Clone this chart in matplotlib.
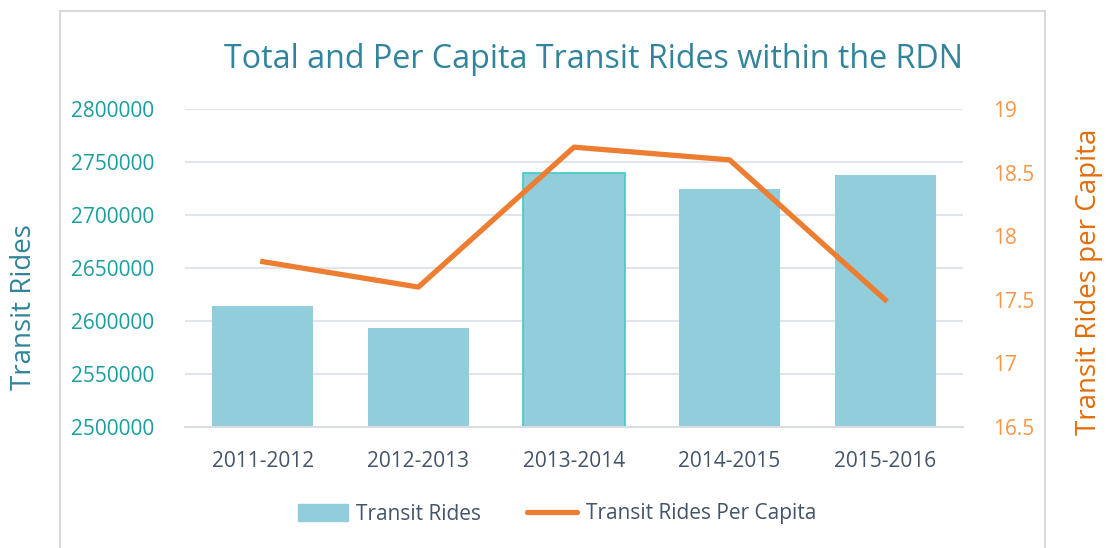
import matplotlib.pyplot as plt
from matplotlib.patches import Rectangle
from matplotlib.lines import Line2D
from matplotlib.ticker import StrMethodFormatter
import numpy as np

plt.rcParams['font.family'] = ['Open Sans', 'DejaVu Sans']

years = ['2011-2012', '2012-2013', '2013-2014', '2014-2015', '2015-2016']
rides = [2614000, 2593000, 2740000, 2725000, 2738000]
per_capita = [17.8, 17.6, 18.7, 18.6, 17.5]

bar_color = '#92CDDC'
line_color = '#ED7D31'

fig = plt.figure(figsize=(11.09, 5.48), dpi=100)
ax = fig.add_axes([185/1109, 1-427/548, 778/1109, 318/548])

x = np.arange(len(years))
bars = ax.bar(x, rides, 0.65, color=bar_color, zorder=2)
# the middle bar is drawn selected in the original
bars[2].set_edgecolor('#3CCCCC')
bars[2].set_linewidth(1.2)

ax.set_xlim(-0.5, len(years)-0.5)
ax.set_ylim(2500000, 2800000)
ax.set_yticks(np.arange(2500000, 2800001, 50000))
ax.yaxis.set_major_formatter(StrMethodFormatter('{x:.0f}'))
ax.set_xticks(x)
ax.set_xticklabels(years)
ax.grid(axis='y', color='#E1E4EA', linewidth=1.5, zorder=0)
for s in ['top', 'left', 'right']:
    ax.spines[s].set_visible(False)
ax.spines['bottom'].set_color('#D9DDE3')
ax.spines['bottom'].set_linewidth(1.5)
ax.tick_params(axis='y', length=0, pad=22, labelsize=15, labelcolor='#1A9E9E')
ax.tick_params(axis='x', length=0, pad=17, labelsize=15, labelcolor='#44546A')
ax.set_ylabel('Transit Rides', fontsize=20, color='#31849B')
ax.yaxis.set_label_coords(-0.189, 0.377)

ax2 = ax.twinx()
ax2.plot(x, per_capita, color=line_color, linewidth=3.8, zorder=3)
ax2.set_ylim(16.5, 19)
ax2.set_yticks([16.5, 17, 17.5, 18, 18.5, 19])
ax2.set_yticklabels(['16.5', '17', '17.5', '18', '18.5', '19'])
for s in ax2.spines.values():
    s.set_visible(False)
ax2.tick_params(axis='y', length=0, pad=22, labelsize=15, labelcolor='#F79646')
ax2.set_ylabel('Transit Rides per Capita', fontsize=20, color='#E36C09')
ax2.yaxis.set_label_coords(1.144, 0.456)

fig.text(593/1109, 1-60/548, 'Total and Per Capita Transit Rides within the RDN',
         fontsize=23.2, color='#31849B', ha='center', va='center')

handles = [Rectangle((0, 0), 1, 1, color=bar_color),
           Line2D([0], [0], color=line_color, linewidth=3.8, solid_capstyle='round')]
fig.legend(handles, ['Transit Rides', 'Transit Rides Per Capita'],
           loc='center', bbox_to_anchor=(557/1109, 1-514/548), ncol=2, frameon=False,
           fontsize=15, labelcolor='#44546A', handlelength=2.4, handleheight=0.9,
           columnspacing=2.2, handletextpad=0.4)

fig.patches.append(Rectangle((60/1109, -0.05), 985/1109, 1.05-11/548, transform=fig.transFigure,
                             fill=False, edgecolor='#D9D9D9', linewidth=1.5))

fig.savefig('out.png', dpi=100)
